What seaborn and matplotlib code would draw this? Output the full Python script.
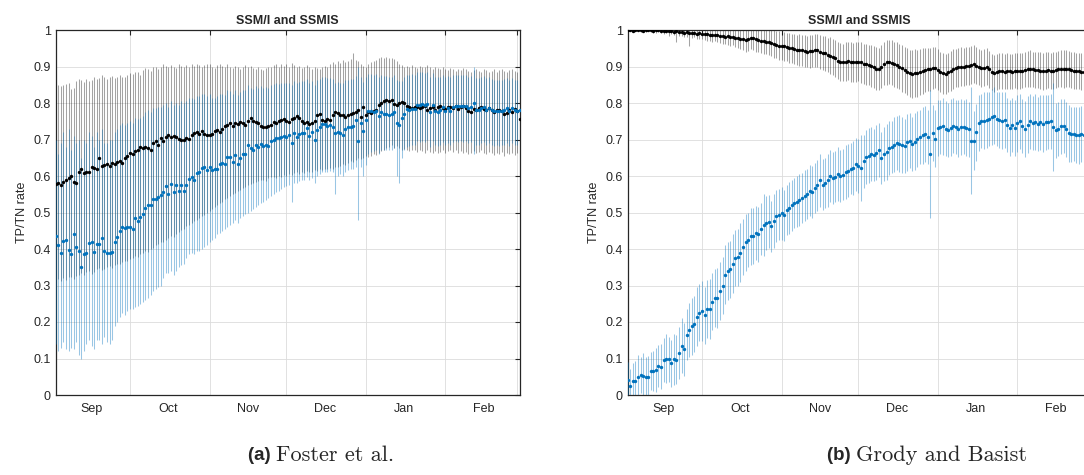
import numpy as np
import pandas as pd
import seaborn as sns
import matplotlib.pyplot as plt
import matplotlib.dates as mdates
from matplotlib.ticker import FixedLocator, FixedFormatter, NullFormatter

# ----------------------------
# Data (daily values, 2 Sep - 2 Mar)
# ----------------------------
start_day = "2010-09-02"
n_days = 182

# (a) Foster et al. -- black series
a_black_mean = [
    0.578, 0.582, 0.576, 0.584, 0.588, 0.594, 0.599, 0.583, 0.580, 0.612,
    0.620, 0.608, 0.610, 0.612, 0.626, 0.622, 0.620, 0.648, 0.628, 0.630,
    0.632, 0.628, 0.636, 0.634, 0.638, 0.641, 0.636, 0.650, 0.656, 0.662,
    0.660, 0.668, 0.672, 0.680, 0.676, 0.680, 0.678, 0.672, 0.690, 0.696,
    0.686, 0.704, 0.696, 0.708, 0.712, 0.706, 0.710, 0.708, 0.702, 0.698,
    0.700, 0.704, 0.702, 0.712, 0.718, 0.720, 0.716, 0.722, 0.714, 0.712,
    0.712, 0.716, 0.722, 0.726, 0.720, 0.730, 0.736, 0.740, 0.744, 0.738,
    0.746, 0.742, 0.748, 0.744, 0.740, 0.752, 0.758, 0.750, 0.748, 0.744,
    0.737, 0.734, 0.733, 0.736, 0.740, 0.749, 0.745, 0.750, 0.753, 0.756,
    0.750, 0.748, 0.756, 0.760, 0.764, 0.758, 0.752, 0.744, 0.749, 0.742,
    0.746, 0.752, 0.767, 0.770, 0.753, 0.750, 0.755, 0.754, 0.768, 0.774,
    0.772, 0.768, 0.766, 0.762, 0.767, 0.770, 0.772, 0.776, 0.780, 0.763,
    0.788, 0.767, 0.775, 0.772, 0.778, 0.781, 0.795, 0.800, 0.806, 0.808,
    0.806, 0.808, 0.797, 0.795, 0.800, 0.803, 0.799, 0.792, 0.788, 0.786,
    0.790, 0.788, 0.785, 0.790, 0.792, 0.780, 0.786, 0.790, 0.782, 0.788,
    0.792, 0.786, 0.784, 0.788, 0.790, 0.786, 0.792, 0.784, 0.790, 0.792,
    0.786, 0.778, 0.776, 0.784, 0.780, 0.785, 0.790, 0.784, 0.780, 0.786,
    0.782, 0.776, 0.780, 0.782, 0.778, 0.770, 0.772, 0.780, 0.776, 0.784,
    0.778, 0.755,
]
a_black_hi = [
    0.852, 0.848, 0.846, 0.850, 0.852, 0.856, 0.838, 0.840, 0.860, 0.866,
    0.862, 0.858, 0.866, 0.860, 0.862, 0.870, 0.866, 0.868, 0.876, 0.872,
    0.866, 0.870, 0.874, 0.868, 0.872, 0.878, 0.870, 0.872, 0.876, 0.882,
    0.880, 0.884, 0.886, 0.878, 0.890, 0.896, 0.892, 0.888, 0.900, 0.898,
    0.894, 0.900, 0.906, 0.902, 0.898, 0.904, 0.900, 0.896, 0.906, 0.902,
    0.898, 0.904, 0.900, 0.906, 0.902, 0.908, 0.904, 0.900, 0.904, 0.908,
    0.906, 0.900, 0.896, 0.904, 0.908, 0.902, 0.898, 0.906, 0.900, 0.896,
    0.902, 0.898, 0.894, 0.900, 0.904, 0.898, 0.902, 0.896, 0.892, 0.898,
    0.894, 0.890, 0.896, 0.900, 0.898, 0.904, 0.906, 0.900, 0.908, 0.902,
    0.906, 0.900, 0.910, 0.904, 0.898, 0.902, 0.896, 0.900, 0.904, 0.898,
    0.894, 0.900, 0.896, 0.892, 0.898, 0.902, 0.900, 0.906, 0.912, 0.908,
    0.914, 0.910, 0.918, 0.912, 0.916, 0.920, 0.936, 0.918, 0.914, 0.906,
    0.902, 0.900, 0.908, 0.912, 0.914, 0.918, 0.922, 0.926, 0.924, 0.926,
    0.922, 0.924, 0.920, 0.916, 0.908, 0.904, 0.900, 0.902, 0.898, 0.904,
    0.900, 0.896, 0.902, 0.898, 0.900, 0.904, 0.898, 0.894, 0.900, 0.896,
    0.892, 0.898, 0.894, 0.890, 0.896, 0.892, 0.888, 0.894, 0.890, 0.896,
    0.892, 0.888, 0.884, 0.890, 0.894, 0.888, 0.886, 0.892, 0.890, 0.884,
    0.888, 0.892, 0.886, 0.890, 0.894, 0.888, 0.884, 0.890, 0.892, 0.888,
    0.886, 0.890,
]
a_black_lo = [
    0.310, 0.318, 0.312, 0.320, 0.316, 0.324, 0.322, 0.318, 0.326, 0.330,
    0.334, 0.328, 0.336, 0.340, 0.332, 0.338, 0.344, 0.348, 0.342, 0.346,
    0.350, 0.354, 0.348, 0.356, 0.360, 0.358, 0.364, 0.368, 0.366, 0.372,
    0.376, 0.380, 0.378, 0.386, 0.390, 0.394, 0.392, 0.400, 0.404, 0.410,
    0.414, 0.420, 0.418, 0.426, 0.430, 0.436, 0.434, 0.442, 0.446, 0.452,
    0.456, 0.462, 0.466, 0.470, 0.476, 0.480, 0.486, 0.490, 0.494, 0.500,
    0.504, 0.510, 0.514, 0.520, 0.526, 0.530, 0.536, 0.540, 0.546, 0.550,
    0.554, 0.560, 0.562, 0.566, 0.570, 0.574, 0.578, 0.580, 0.584, 0.586,
    0.588, 0.590, 0.586, 0.594, 0.596, 0.598, 0.594, 0.600, 0.598, 0.604,
    0.600, 0.606, 0.604, 0.608, 0.610, 0.606, 0.612, 0.608, 0.614, 0.610,
    0.612, 0.616, 0.614, 0.618, 0.616, 0.620, 0.618, 0.622, 0.620, 0.626,
    0.624, 0.628, 0.632, 0.630, 0.636, 0.640, 0.638, 0.644, 0.648, 0.646,
    0.650, 0.654, 0.652, 0.656, 0.660, 0.658, 0.664, 0.668, 0.672, 0.676,
    0.680, 0.684, 0.678, 0.682, 0.676, 0.672, 0.674, 0.670, 0.668, 0.672,
    0.670, 0.666, 0.672, 0.668, 0.664, 0.670, 0.666, 0.662, 0.668, 0.664,
    0.666, 0.670, 0.664, 0.668, 0.672, 0.666, 0.670, 0.664, 0.668, 0.662,
    0.666, 0.660, 0.664, 0.668, 0.662, 0.666, 0.670, 0.664, 0.660, 0.666,
    0.662, 0.658, 0.664, 0.660, 0.666, 0.656, 0.662, 0.660, 0.664, 0.658,
    0.662, 0.656,
]

# (a) Foster et al. -- blue series
a_blue_mean = [
    0.436, 0.411, 0.390, 0.422, 0.425, 0.396, 0.386, 0.440, 0.405, 0.395,
    0.350, 0.386, 0.390, 0.417, 0.420, 0.392, 0.413, 0.414, 0.430, 0.395,
    0.390, 0.388, 0.393, 0.420, 0.434, 0.450, 0.461, 0.457, 0.460, 0.461,
    0.454, 0.486, 0.478, 0.489, 0.496, 0.512, 0.520, 0.520, 0.536, 0.536,
    0.543, 0.548, 0.557, 0.573, 0.552, 0.577, 0.556, 0.575, 0.560, 0.576,
    0.560, 0.576, 0.591, 0.598, 0.588, 0.608, 0.612, 0.621, 0.626, 0.616,
    0.624, 0.617, 0.618, 0.620, 0.634, 0.636, 0.632, 0.653, 0.652, 0.639,
    0.658, 0.633, 0.650, 0.659, 0.660, 0.685, 0.676, 0.671, 0.685, 0.680,
    0.689, 0.682, 0.684, 0.682, 0.696, 0.698, 0.703, 0.703, 0.706, 0.710,
    0.708, 0.712, 0.691, 0.717, 0.708, 0.714, 0.719, 0.719, 0.731, 0.710,
    0.720, 0.700, 0.726, 0.735, 0.742, 0.742, 0.738, 0.740, 0.735, 0.717,
    0.720, 0.717, 0.712, 0.728, 0.733, 0.735, 0.737, 0.753, 0.696, 0.746,
    0.724, 0.753, 0.777, 0.777, 0.775, 0.778, 0.764, 0.776, 0.769, 0.770,
    0.768, 0.769, 0.776, 0.744, 0.741, 0.760, 0.769, 0.783, 0.782, 0.784,
    0.783, 0.795, 0.794, 0.796, 0.795, 0.796, 0.776, 0.795, 0.778, 0.776,
    0.781, 0.790, 0.779, 0.786, 0.779, 0.790, 0.792, 0.791, 0.793, 0.792,
    0.792, 0.786, 0.788, 0.799, 0.781, 0.781, 0.785, 0.790, 0.781, 0.785,
    0.781, 0.778, 0.779, 0.777, 0.779, 0.781, 0.785, 0.778, 0.786, 0.780,
    0.778, 0.782,
]
a_blue_hi = [
    0.700, 0.660, 0.690, 0.720, 0.680, 0.730, 0.670, 0.710, 0.690, 0.700,
    0.650, 0.700, 0.690, 0.720, 0.710, 0.680, 0.720, 0.700, 0.730, 0.690,
    0.690, 0.700, 0.700, 0.720, 0.730, 0.740, 0.745, 0.740, 0.745, 0.750,
    0.745, 0.760, 0.755, 0.760, 0.765, 0.775, 0.780, 0.775, 0.785, 0.785,
    0.790, 0.790, 0.795, 0.800, 0.790, 0.805, 0.795, 0.800, 0.795, 0.805,
    0.800, 0.805, 0.815, 0.815, 0.810, 0.820, 0.820, 0.825, 0.825, 0.820,
    0.825, 0.815, 0.815, 0.818, 0.825, 0.825, 0.822, 0.835, 0.832, 0.826,
    0.836, 0.822, 0.830, 0.836, 0.836, 0.848, 0.842, 0.838, 0.846, 0.842,
    0.846, 0.842, 0.844, 0.842, 0.850, 0.852, 0.854, 0.852, 0.854, 0.856,
    0.854, 0.856, 0.848, 0.860, 0.854, 0.858, 0.860, 0.860, 0.866, 0.856,
    0.860, 0.850, 0.862, 0.866, 0.870, 0.870, 0.868, 0.868, 0.866, 0.856,
    0.858, 0.856, 0.854, 0.862, 0.864, 0.866, 0.866, 0.874, 0.900, 0.870,
    0.858, 0.872, 0.880, 0.880, 0.878, 0.880, 0.872, 0.878, 0.874, 0.874,
    0.872, 0.872, 0.876, 0.862, 0.860, 0.860, 0.872, 0.878, 0.878, 0.880,
    0.878, 0.884, 0.884, 0.884, 0.882, 0.884, 0.872, 0.882, 0.872, 0.870,
    0.872, 0.878, 0.870, 0.874, 0.870, 0.876, 0.876, 0.876, 0.878, 0.876,
    0.876, 0.872, 0.874, 0.900, 0.868, 0.868, 0.870, 0.874, 0.868, 0.870,
    0.866, 0.864, 0.864, 0.862, 0.864, 0.866, 0.868, 0.862, 0.868, 0.864,
    0.862, 0.864,
]
a_blue_lo = [
    0.140, 0.120, 0.130, 0.145, 0.125, 0.120, 0.130, 0.125, 0.145, 0.110,
    0.100, 0.120, 0.140, 0.150, 0.135, 0.125, 0.150, 0.150, 0.140, 0.160,
    0.145, 0.140, 0.150, 0.190, 0.200, 0.215, 0.225, 0.220, 0.230, 0.235,
    0.235, 0.240, 0.245, 0.250, 0.255, 0.260, 0.265, 0.275, 0.285, 0.290,
    0.295, 0.300, 0.320, 0.335, 0.335, 0.340, 0.330, 0.340, 0.350, 0.355,
    0.360, 0.375, 0.385, 0.390, 0.385, 0.395, 0.395, 0.400, 0.405, 0.410,
    0.420, 0.425, 0.430, 0.440, 0.445, 0.450, 0.455, 0.460, 0.465, 0.470,
    0.480, 0.470, 0.485, 0.490, 0.495, 0.500, 0.505, 0.510, 0.515, 0.520,
    0.525, 0.530, 0.535, 0.540, 0.545, 0.550, 0.555, 0.560, 0.565, 0.570,
    0.572, 0.575, 0.530, 0.580, 0.582, 0.585, 0.588, 0.590, 0.596, 0.590,
    0.595, 0.580, 0.600, 0.605, 0.610, 0.612, 0.610, 0.614, 0.610, 0.550,
    0.600, 0.605, 0.600, 0.612, 0.616, 0.620, 0.618, 0.624, 0.480, 0.625,
    0.600, 0.630, 0.660, 0.665, 0.668, 0.670, 0.660, 0.672, 0.670, 0.672,
    0.670, 0.672, 0.676, 0.600, 0.580, 0.650, 0.670, 0.680, 0.682, 0.684,
    0.686, 0.696, 0.694, 0.696, 0.694, 0.698, 0.680, 0.696, 0.684, 0.682,
    0.686, 0.694, 0.684, 0.690, 0.684, 0.694, 0.696, 0.694, 0.696, 0.694,
    0.696, 0.690, 0.692, 0.660, 0.686, 0.686, 0.690, 0.694, 0.686, 0.690,
    0.686, 0.682, 0.684, 0.682, 0.684, 0.686, 0.690, 0.682, 0.690, 0.686,
    0.684, 0.688,
]

# (b) Grody and Basist -- black series (mean and half width)
b_black_mean = [
    0.999, 1.000, 0.998, 0.999, 1.000, 0.999, 0.998, 0.999, 1.000, 0.999,
    0.998, 0.999, 0.999, 0.998, 0.997, 0.998, 0.996, 0.997, 0.995, 0.996,
    0.994, 0.995, 0.993, 0.994, 0.992, 0.991, 0.992, 0.990, 0.991, 0.989,
    0.988, 0.989, 0.987, 0.986, 0.987, 0.985, 0.984, 0.983, 0.982, 0.983,
    0.981, 0.980, 0.979, 0.978, 0.976, 0.974, 0.973, 0.976, 0.978, 0.977,
    0.975, 0.973, 0.971, 0.969, 0.967, 0.968, 0.965, 0.962, 0.960, 0.957,
    0.956, 0.955, 0.953, 0.951, 0.950, 0.948, 0.946, 0.945, 0.944, 0.942,
    0.941, 0.942, 0.943, 0.944, 0.945, 0.940, 0.937, 0.936, 0.932, 0.930,
    0.927, 0.922, 0.916, 0.913, 0.912, 0.913, 0.914, 0.912, 0.911, 0.912,
    0.913, 0.911, 0.908, 0.906, 0.904, 0.902, 0.898, 0.894, 0.893, 0.900,
    0.907, 0.911, 0.913, 0.910, 0.906, 0.904, 0.900, 0.895, 0.890, 0.886,
    0.881, 0.880, 0.882, 0.881, 0.886, 0.888, 0.890, 0.892, 0.893, 0.895,
    0.897, 0.891, 0.886, 0.882, 0.879, 0.884, 0.888, 0.893, 0.896, 0.898,
    0.900, 0.899, 0.901, 0.902, 0.904, 0.906, 0.902, 0.898, 0.895, 0.897,
    0.900, 0.892, 0.885, 0.881, 0.884, 0.887, 0.888, 0.886, 0.888, 0.887,
    0.886, 0.888, 0.887, 0.888, 0.889, 0.891, 0.893, 0.894, 0.892, 0.890,
    0.891, 0.889, 0.887, 0.889, 0.890, 0.888, 0.888, 0.891, 0.893, 0.894,
    0.893, 0.894, 0.893, 0.891, 0.889, 0.887, 0.888, 0.886, 0.885, 0.887,
    0.886, 0.888,
]
b_black_err = [
    0.003, 0.003, 0.004, 0.003, 0.004, 0.005, 0.004, 0.005, 0.004, 0.005,
    0.005, 0.006, 0.005, 0.006, 0.007, 0.006, 0.012, 0.008, 0.010, 0.030,
    0.010, 0.012, 0.011, 0.013, 0.035, 0.014, 0.012, 0.015, 0.016, 0.014,
    0.016, 0.018, 0.017, 0.020, 0.018, 0.019, 0.020, 0.022, 0.021, 0.023,
    0.024, 0.022, 0.025, 0.026, 0.028, 0.030, 0.032, 0.034, 0.030, 0.032,
    0.034, 0.033, 0.035, 0.036, 0.034, 0.037, 0.036, 0.038, 0.037, 0.039,
    0.038, 0.040, 0.039, 0.041, 0.040, 0.042, 0.041, 0.043, 0.042, 0.044,
    0.043, 0.045, 0.044, 0.046, 0.045, 0.047, 0.046, 0.048, 0.047, 0.050,
    0.049, 0.051, 0.050, 0.052, 0.051, 0.053, 0.052, 0.054, 0.053, 0.055,
    0.054, 0.056, 0.055, 0.057, 0.056, 0.058, 0.057, 0.059, 0.058, 0.060,
    0.059, 0.061, 0.060, 0.062, 0.061, 0.063, 0.062, 0.064, 0.063, 0.065,
    0.064, 0.066, 0.065, 0.064, 0.063, 0.062, 0.061, 0.060, 0.059, 0.058,
    0.057, 0.056, 0.055, 0.056, 0.055, 0.054, 0.055, 0.054, 0.053, 0.054,
    0.053, 0.052, 0.053, 0.052, 0.051, 0.052, 0.051, 0.050, 0.051, 0.050,
    0.051, 0.050, 0.049, 0.050, 0.049, 0.050, 0.049, 0.048, 0.049, 0.048,
    0.049, 0.048, 0.049, 0.050, 0.049, 0.048, 0.049, 0.050, 0.049, 0.050,
    0.049, 0.050, 0.051, 0.050, 0.049, 0.050, 0.051, 0.050, 0.049, 0.050,
    0.051, 0.050, 0.049, 0.050, 0.051, 0.050, 0.049, 0.050, 0.049, 0.050,
    0.049, 0.050,
]

# (b) Grody and Basist -- blue series (mean and half width)
b_blue_mean = [
    0.040, 0.025, 0.038, 0.038, 0.050, 0.055, 0.052, 0.048, 0.048, 0.065,
    0.066, 0.068, 0.080, 0.078, 0.095, 0.100, 0.098, 0.087, 0.098, 0.097,
    0.115, 0.135, 0.125, 0.165, 0.178, 0.188, 0.195, 0.215, 0.225, 0.230,
    0.218, 0.235, 0.235, 0.255, 0.265, 0.265, 0.285, 0.300, 0.330, 0.340,
    0.345, 0.360, 0.375, 0.378, 0.390, 0.405, 0.418, 0.425, 0.435, 0.435,
    0.445, 0.440, 0.455, 0.465, 0.470, 0.475, 0.462, 0.478, 0.490, 0.494,
    0.498, 0.492, 0.506, 0.512, 0.520, 0.526, 0.530, 0.534, 0.540, 0.546,
    0.550, 0.560, 0.556, 0.568, 0.574, 0.588, 0.576, 0.580, 0.588, 0.600,
    0.594, 0.598, 0.606, 0.600, 0.604, 0.611, 0.615, 0.620, 0.622, 0.632,
    0.628, 0.622, 0.640, 0.652, 0.656, 0.661, 0.658, 0.664, 0.670, 0.649,
    0.659, 0.666, 0.677, 0.679, 0.686, 0.690, 0.688, 0.685, 0.682, 0.693,
    0.697, 0.688, 0.694, 0.702, 0.708, 0.711, 0.715, 0.706, 0.661, 0.718,
    0.702, 0.731, 0.734, 0.736, 0.730, 0.727, 0.732, 0.738, 0.734, 0.730,
    0.734, 0.733, 0.732, 0.728, 0.697, 0.697, 0.720, 0.745, 0.752, 0.752,
    0.754, 0.756, 0.761, 0.765, 0.756, 0.754, 0.752, 0.753, 0.740, 0.732,
    0.741, 0.732, 0.744, 0.750, 0.738, 0.729, 0.741, 0.750, 0.745, 0.748,
    0.743, 0.747, 0.743, 0.747, 0.749, 0.750, 0.734, 0.725, 0.730, 0.736,
    0.738, 0.728, 0.717, 0.714, 0.714, 0.712, 0.711, 0.715, 0.713, 0.712,
    0.710, 0.714,
]
b_blue_err = [
    0.050, 0.045, 0.050, 0.055, 0.060, 0.050, 0.062, 0.055, 0.058, 0.052,
    0.055, 0.060, 0.058, 0.062, 0.060, 0.066, 0.062, 0.064, 0.070, 0.068,
    0.070, 0.075, 0.072, 0.070, 0.075, 0.078, 0.076, 0.080, 0.078, 0.082,
    0.078, 0.080, 0.082, 0.078, 0.080, 0.082, 0.080, 0.078, 0.082, 0.080,
    0.078, 0.080, 0.076, 0.078, 0.080, 0.076, 0.078, 0.074, 0.078, 0.076,
    0.074, 0.076, 0.072, 0.085, 0.074, 0.072, 0.070, 0.074, 0.072, 0.070,
    0.072, 0.070, 0.068, 0.072, 0.070, 0.068, 0.070, 0.072, 0.068, 0.070,
    0.068, 0.070, 0.072, 0.068, 0.070, 0.072, 0.070, 0.068, 0.072, 0.070,
    0.072, 0.070, 0.074, 0.072, 0.070, 0.074, 0.072, 0.070, 0.074, 0.072,
    0.074, 0.090, 0.072, 0.074, 0.076, 0.074, 0.072, 0.076, 0.074, 0.072,
    0.074, 0.076, 0.074, 0.072, 0.076, 0.074, 0.078, 0.076, 0.074, 0.078,
    0.076, 0.074, 0.078, 0.076, 0.074, 0.078, 0.076, 0.074, 0.175, 0.076,
    0.078, 0.076, 0.074, 0.078, 0.076, 0.074, 0.078, 0.076, 0.074, 0.078,
    0.076, 0.074, 0.078, 0.076, 0.146, 0.080, 0.078, 0.076, 0.074, 0.078,
    0.076, 0.074, 0.076, 0.078, 0.074, 0.076, 0.078, 0.076, 0.074, 0.076,
    0.074, 0.076, 0.078, 0.076, 0.074, 0.076, 0.078, 0.076, 0.074, 0.076,
    0.074, 0.076, 0.078, 0.076, 0.074, 0.076, 0.120, 0.076, 0.074, 0.076,
    0.074, 0.076, 0.078, 0.076, 0.074, 0.076, 0.078, 0.076, 0.074, 0.076,
    0.074, 0.076,
]

yticks = [0, 0.1, 0.2, 0.3, 0.4, 0.5, 0.6, 0.7, 0.8, 0.9, 1]
ytick_labels = ["0", "0.1", "0.2", "0.3", "0.4", "0.5", "0.6", "0.7", "0.8", "0.9", "1"]
panel_title = "SSM/I and SSMIS"
ylabel = "TP/TN rate"
captions = [("(a)", "Foster et al."), ("(b)", "Grody and Basist")]

# ----------------------------
# Style
# ----------------------------
sns.set_style("white")
plt.rcParams["font.family"] = ["Liberation Sans", "DejaVu Sans"]
plt.rcParams["font.size"] = 9

black = "#000000"
blue = "#0072BD"
spine_col = "#262626"

dates = pd.date_range(start_day, periods=n_days, freq="D")

fig = plt.figure(figsize=(10.84, 4.75), dpi=100)
W, H = 1084, 475
ax_a = fig.add_axes([55.7 / W, 1 - 395 / H, 464 / W, 365 / H])
ax_b = fig.add_axes([627.7 / W, 1 - 395 / H, 464 / W, 365 / H])


def draw_panel(ax, blk_mean, blk_lo, blk_hi, blu_mean, blu_lo, blu_hi):
    ax.vlines(dates, blk_lo, blk_hi, colors=black, alpha=0.36, linewidth=0.75, zorder=2)
    ax.vlines(dates, blu_lo, blu_hi, colors=blue, alpha=0.4, linewidth=0.75, zorder=3)
    sns.scatterplot(x=dates, y=blk_mean, color=black, s=6, linewidth=0, ax=ax, zorder=4)
    sns.scatterplot(x=dates, y=blu_mean, color=blue, s=6, linewidth=0, ax=ax, zorder=5)

    ax.set_xlim(dates[0], dates[-1])
    ax.set_ylim(0, 1)
    ax.yaxis.set_major_locator(FixedLocator(yticks))
    ax.yaxis.set_major_formatter(FixedFormatter(ytick_labels))

    ax.xaxis.set_major_locator(mdates.MonthLocator())
    ax.xaxis.set_major_formatter(NullFormatter())
    ax.xaxis.set_minor_locator(mdates.MonthLocator(bymonthday=16))
    ax.xaxis.set_minor_formatter(mdates.DateFormatter("%b"))
    ax.tick_params(axis="x", which="minor", length=0, pad=6, labelsize=9, colors=spine_col)
    ax.tick_params(axis="both", which="major", direction="in", length=3.5, width=0.8,
                   top=True, right=True, labelsize=9, colors=spine_col)
    ax.tick_params(axis="x", which="major", pad=6)

    ax.grid(True, which="major", color="#dcdcdc", linewidth=0.6, zorder=0)
    ax.set_axisbelow(True)
    for s in ax.spines.values():
        s.set_color(spine_col)
        s.set_linewidth(0.9)

    ax.set_title(panel_title, fontsize=9, fontweight="bold", pad=4)
    ax.set_ylabel(ylabel, fontsize=9, labelpad=4)
    ax.set_xlabel("")


draw_panel(ax_a, a_black_mean, a_black_lo, a_black_hi, a_blue_mean, a_blue_lo, a_blue_hi)

bb_m = np.array(b_black_mean)
bb_e = np.array(b_black_err)
bl_m = np.array(b_blue_mean)
bl_e = np.array(b_blue_err)
draw_panel(ax_b, bb_m, bb_m - bb_e, np.minimum(bb_m + bb_e, 1.0), bl_m, bl_m - bl_e, bl_m + bl_e)

# sub captions
for (tag, name), xc in zip(captions, [278, 858]):
    fig.text(xc / W - 0.002, 1 - 455 / H, tag + " ", ha="right", va="center",
             fontsize=13.5, fontweight="bold", family=["Liberation Sans"])
    fig.text(xc / W - 0.002, 1 - 455 / H, name, ha="left", va="center",
             fontsize=16, family=["cmr10", "DejaVu Serif"])

fig.savefig("out.png", dpi=100)
